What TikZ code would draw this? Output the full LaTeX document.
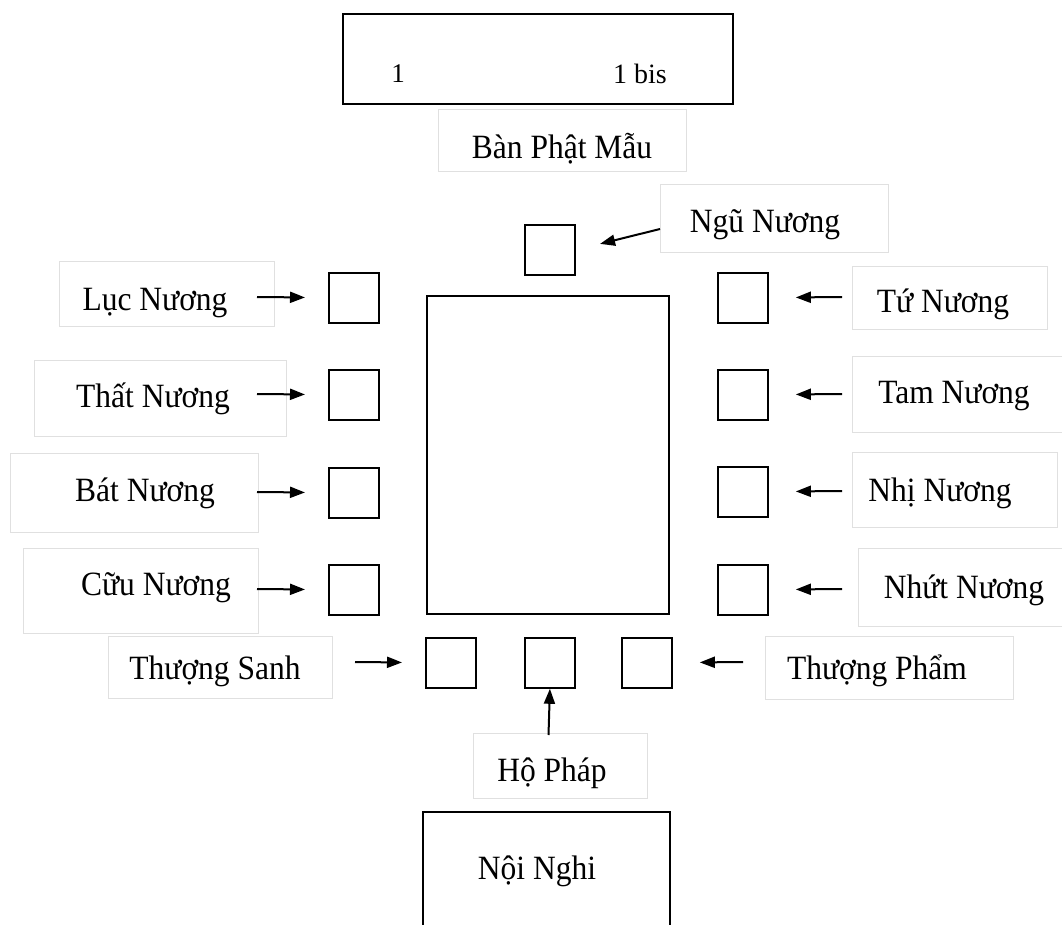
\documentclass[tikz,border=0pt]{standalone}
\usepackage{fontspec}
\setmainfont{Liberation Serif}
\usetikzlibrary{arrows.meta}
\begin{document}
\begin{tikzpicture}[x=1pt,y=-1pt,
  sq/.style={draw=black,line width=1.8pt,minimum width=50pt,minimum height=50pt,inner sep=0pt,anchor=north west},
  bigbox/.style={draw=black,line width=2pt,inner sep=0pt},
  lbox/.style={draw=black!12,line width=1pt,inner sep=0pt},
  txt/.style={inner sep=0pt,yshift=-3pt,font=\fontsize{31.5}{36}\selectfont,yscale=1.08},
  arr/.style={line width=2pt,-{Triangle[length=15pt,width=11pt]}}]
\useasboundingbox (0,0) rectangle (1062,925);
% top box
\node[bigbox,minimum width=390pt,minimum height=90pt] (top) at (538,59) {};
\node[inner sep=0pt,font=\fontsize{27}{32}\selectfont] (one) at (398,74) {1};
\node[inner sep=0pt,font=\fontsize{28}{32}\selectfont] (onebis) at (640,74) {1 bis};
% Ban Phat Mau
\node[lbox,minimum width=248pt,minimum height=62pt] (bBan) at (562,141) {};
\node[txt] (tBan) at (562,146) {Bàn Phật Mẫu};
% main rectangle
\node[bigbox,minimum width=242pt,minimum height=318pt,anchor=north west] (main) at (426,295) {};
% squares
\node[sq] (sqNgu) at (524,224) {};
\node[sq] (sqL1) at (328,272) {};
\node[sq] (sqL2) at (328,369) {};
\node[sq] (sqL3) at (328,467) {};
\node[sq] (sqL4) at (328,564) {};
\node[sq] (sqR1) at (717,272) {};
\node[sq] (sqR2) at (717,369) {};
\node[sq] (sqR3) at (717,466) {};
\node[sq] (sqR4) at (717,564) {};
\node[sq] (sqB1) at (425,637) {};
\node[sq] (sqB2) at (524,637) {};
\node[sq] (sqB3) at (621,637) {};
% label boxes and texts
\node[lbox,minimum width=228pt,minimum height=68pt] (bNgu) at (774,219) {};
\node[txt] (tNgu) at (765,222) {Ngũ Nương};
\node[lbox,minimum width=215pt,minimum height=64pt] (bL1) at (166.5,294) {};
\node[txt] (tL1) at (155,300) {Lục Nương};
\node[lbox,minimum width=252pt,minimum height=76pt] (bL2) at (160,398) {};
\node[txt] (tL2) at (153,396) {Thất Nương};
\node[lbox,minimum width=248pt,minimum height=79pt] (bL3) at (134,492.5) {};
\node[txt] (tL3) at (145,490) {Bát Nương};
\node[lbox,minimum width=235pt,minimum height=85pt] (bL4) at (140.5,590.5) {};
\node[txt] (tL4) at (156,585) {Cữu Nương};
\node[lbox,minimum width=224pt,minimum height=62pt] (bB1) at (220,667) {};
\node[txt] (tB1) at (215,668) {Thượng Sanh};
\node[lbox,minimum width=195pt,minimum height=63pt] (bR1) at (949.5,297.5) {};
\node[txt] (tR1) at (943,301) {Tứ Nương};
\node[lbox,minimum width=210pt,minimum height=76pt] (bR2) at (957,394) {};
\node[txt] (tR2) at (954,393) {Tam Nương};
\node[lbox,minimum width=205pt,minimum height=75pt] (bR3) at (954.5,489.5) {};
\node[txt] (tR3) at (940,490) {Nhị Nương};
\node[lbox,minimum width=204pt,minimum height=78pt] (bR4) at (960,587) {};
\node[txt] (tR4) at (964,587) {Nhứt Nương};
\node[lbox,minimum width=248pt,minimum height=63pt] (bB3) at (889,667.5) {};
\node[txt] (tB3) at (877,668) {Thượng Phẩm};
\node[lbox,minimum width=174pt,minimum height=65pt] (bHo) at (560,765.5) {};
\node[txt] (tHo) at (552,770) {Hộ Pháp};
% Noi Nghi (open at bottom)
\coordinate (nnBL) at (423,930);
\coordinate (nnTL) at (423,812);
\coordinate (nnTR) at (670,812);
\coordinate (nnBR) at (670,930);
\draw[line width=2pt] (nnBL) -- (nnTL) -- (nnTR) -- (nnBR);
\node[txt] (tNoi) at (537,868) {Nội Nghi};
% arrow tails
\coordinate (aNgu) at (660,229);
\coordinate (aL1) at (257,297);
\coordinate (aL2) at (257,394);
\coordinate (aL3) at (257,492);
\coordinate (aL4) at (257,589);
\coordinate (aR1) at (842,297);
\coordinate (aR2) at (842,394);
\coordinate (aR3) at (842,491);
\coordinate (aR4) at (842,589);
\coordinate (aB1) at (355,662);
\coordinate (aB3) at (743,662);
\coordinate (aHo) at (548.5,735);
% arrows
\draw[arr,shorten >=25pt] (aNgu) -- (sqNgu.east);
\foreach \i in {1,2,3,4} {
  \draw[arr,shorten >=23pt] (aL\i) -- (sqL\i);
  \draw[arr,shorten >=27pt] (aR\i) -- (sqR\i);
}
\draw[arr,shorten >=23pt] (aB1) -- (sqB1);
\draw[arr,shorten >=27pt] (aB3) -- (sqB3);
\draw[arr] (aHo) -- (sqB2.south);
\end{tikzpicture}
\end{document}
